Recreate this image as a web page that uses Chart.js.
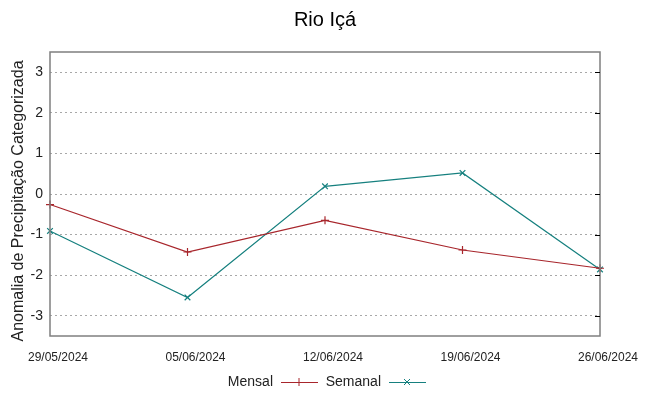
<!DOCTYPE html>
<html>
<head>
<meta charset="utf-8">
<script src="https://cdn.jsdelivr.net/npm/chart.js@4"></script>
<style>
  body { margin: 0; background: #fff; }
  #wrap { width: 649px; height: 396px; }
</style>
</head>
<body>
<div id="wrap"><canvas id="rio-chart" width="649" height="396"></canvas></div>
<script>
// dados
var datas = ['29/05/2024', '05/06/2024', '12/06/2024', '19/06/2024', '26/06/2024'];
var mensal = [-0.26, -1.43, -0.65, -1.38, -1.83];
var semanal = [-0.91, -2.55, 0.19, 0.52, -1.86];
var yTicks = [-3, -2, -1, 0, 1, 2, 3];

var corMensal = '#a8262c';
var corSemanal = '#16807f';
var fonte = '"Liberation Sans", Arial, sans-serif';

// moldura, titulos e legenda no estilo gnuplot
var extras = {
    id: 'extras',
    afterDraw: function(chart) {
        var ctx = chart.ctx;
        var a = chart.chartArea;
        ctx.save();
        ctx.strokeStyle = '#7f7f7f';
        ctx.lineWidth = 1.5;
        ctx.strokeRect(a.left, a.top, a.right - a.left, a.bottom - a.top);

        // marcas na direita
        var y = chart.scales.y;
        ctx.strokeStyle = '#000';
        ctx.lineWidth = 1;
        yTicks.forEach(function(v) {
            var py = Math.round(y.getPixelForValue(v)) + 0.5;
            ctx.beginPath();
            ctx.moveTo(a.right - 5, py);
            ctx.lineTo(a.right, py);
            ctx.stroke();
        });

        ctx.fillStyle = '#000';
        ctx.font = '20px ' + fonte;
        ctx.textAlign = 'center';
        ctx.textBaseline = 'middle';
        ctx.fillText('Rio Içá', 325, 20);

        // titulo do eixo y
        ctx.save();
        ctx.translate(19, 201);
        ctx.rotate(-Math.PI / 2);
        ctx.fillStyle = '#222';
        ctx.font = '16px ' + fonte;
        ctx.fillText('Anomalia de Precipitação Categorizada', 0, 0);
        ctx.restore();

        // legenda
        ctx.font = '14px ' + fonte;
        ctx.textAlign = 'right';
        var itens = [
            { txt: 'Mensal', x: 273, cor: corMensal, m: 'plus' },
            { txt: 'Semanal', x: 381, cor: corSemanal, m: 'x' }
        ];
        itens.forEach(function(it) {
            var ly = 382;
            ctx.fillStyle = '#222';
            ctx.fillText(it.txt, it.x, ly);
            ctx.strokeStyle = it.cor;
            ctx.lineWidth = 1;
            ctx.beginPath();
            ctx.moveTo(it.x + 8, ly + 0.5);
            ctx.lineTo(it.x + 45, ly + 0.5);
            ctx.stroke();
            var cx = it.x + 26;
            ctx.beginPath();
            if (it.m == 'plus') {
                ctx.moveTo(cx, ly - 4); ctx.lineTo(cx, ly + 4);
            } else {
                ctx.moveTo(cx - 3, ly - 3); ctx.lineTo(cx + 3, ly + 3);
                ctx.moveTo(cx + 3, ly - 3); ctx.lineTo(cx - 3, ly + 3);
            }
            ctx.stroke();
        });
        ctx.restore();
    }
};

var ctx = document.getElementById('rio-chart').getContext('2d');
var chart = new Chart(ctx, {
    type: 'line',
    data: {
        labels: datas,
        datasets: [{
            label: 'Mensal',
            data: mensal,
            borderColor: corMensal,
            backgroundColor: corMensal,
            borderWidth: 1.2,
            pointStyle: 'cross',
            pointRadius: 4,
            pointBorderWidth: 1.2,
            tension: 0
        },
        {
            label: 'Semanal',
            data: semanal,
            borderColor: corSemanal,
            backgroundColor: corSemanal,
            borderWidth: 1.2,
            pointStyle: 'crossRot',
            pointRadius: 4,
            pointBorderWidth: 1.2,
            tension: 0
        }]
    },
    options: {
        responsive: false,
        animation: false,
        layout: { padding: { top: 52, right: 49, bottom: 30, left: 0 } },
        plugins: {
            legend: { display: false },
            title: { display: false },
            tooltip: { enabled: false }
        },
        scales: {
            x: {
                offset: false,
                grid: { display: false, drawTicks: false },
                border: { display: false },
                ticks: {
                    color: '#222',
                    font: { family: fonte, size: 12 },
                    maxRotation: 0,
                    autoSkip: false,
                    padding: 14,
                    labelOffset: 8
                },
                afterFit: function(s) { s.height = 30; }
            },
            y: {
                min: -3.5,
                max: 3.5,
                afterBuildTicks: function(s) {
                    s.ticks = yTicks.map(function(v) { return { value: v }; });
                },
                grid: { color: '#a8a8a8', drawTicks: false, lineWidth: 1 },
                border: { display: false, dash: [2, 3] },
                ticks: {
                    color: '#222',
                    font: { family: fonte, size: 14 },
                    padding: 7
                },
                afterFit: function(s) { s.width = 50; }
            }
        }
    },
    plugins: [extras]
});
</script>
</body>
</html>
